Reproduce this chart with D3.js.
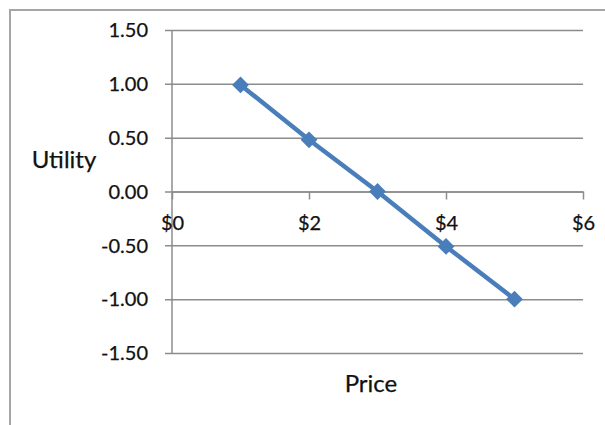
<!DOCTYPE html>
<html>
<head>
<meta charset="utf-8">
<script src="https://cdn.jsdelivr.net/npm/d3@7"></script>
<style>
  html, body { margin: 0; padding: 0; background: #fff; }
  svg { display: block; }
  text { font-family: Lato, "Open Sans", sans-serif; fill: #111; }
</style>
</head>
<body>
<svg id="chart" width="605" height="425"></svg>
<script>
// Utility of each price level
const prices = [1, 2, 3, 4, 5];
const utilities = [0.99, 0.48, 0.0, -0.51, -1.0];
const xTicks = [0, 2, 4, 6];
const yTicks = [-1.5, -1.0, -0.5, 0.0, 0.5, 1.0, 1.5];

const svg = d3.select("#chart");
const font = "Lato, 'Open Sans', sans-serif";

// chart frame
svg.append("rect")
  .attr("x", 10).attr("y", 10)
  .attr("width", 640).attr("height", 460)
  .attr("fill", "none")
  .attr("stroke", "#a6a6a6")
  .attr("stroke-width", 2);

const x = d3.scaleLinear().domain([0, 6]).range([172, 583]);
const y = d3.scaleLinear().domain([-1.5, 1.5]).range([353, 30]);

const gridColor = "#8c8c8c";
const fmt = d => d3.format(".2f")(d).replace("\u2212", "-");

// horizontal gridlines with left tick marks
const yAxis = d3.axisLeft(y)
  .tickValues(yTicks)
  .tickSize(-(583 - 172))
  .tickSizeOuter(0)
  .tickFormat(fmt);
const gy = svg.append("g").attr("transform", "translate(172,0)").call(yAxis);
gy.select(".domain").remove();
gy.selectAll(".tick line")
  .attr("x1", -7)
  .attr("stroke", gridColor)
  .attr("stroke-width", 1.5);
gy.selectAll(".tick text")
  .attr("x", -24)
  .attr("dy", "0.34em")
  .style("font-size", "20px")
  .style("font-family", font)
  .attr("fill", "#111")
  .attr("stroke", "#111")
  .attr("stroke-width", 0.25);

// vertical axis line
svg.append("line")
  .attr("x1", x(0)).attr("x2", x(0))
  .attr("y1", y(1.5)).attr("y2", y(-1.5))
  .attr("stroke", gridColor)
  .attr("stroke-width", 1.5);

// horizontal axis through zero
const xAxis = d3.axisBottom(x)
  .tickValues(xTicks)
  .tickSize(8)
  .tickSizeOuter(0)
  .tickFormat(d => "$" + d);
const gx = svg.append("g").attr("transform", `translate(0,${y(0)})`).call(xAxis);
gx.select(".domain").attr("stroke", gridColor).attr("stroke-width", 1.5);
gx.selectAll(".tick line").attr("stroke", gridColor).attr("stroke-width", 1.5);
gx.selectAll(".tick text")
  .attr("y", 24)
  .style("font-size", "20px")
  .style("font-family", font)
  .attr("fill", "#111")
  .attr("stroke", "#111")
  .attr("stroke-width", 0.25);

// series line
const data = prices.map((p, i) => ({ p, u: utilities[i] }));
svg.append("path")
  .datum(data)
  .attr("fill", "none")
  .attr("stroke", "#4a7ebb")
  .attr("stroke-width", 4.5)
  .attr("d", d3.line().x(d => x(d.p)).y(d => y(d.u)));

// diamond markers
svg.selectAll(".marker")
  .data(data)
  .join("path")
  .attr("class", "marker")
  .attr("transform", d => `translate(${x(d.p)},${y(d.u)})`)
  .attr("d", d3.symbol().type(d3.symbolDiamond2).size(180))
  .attr("fill", "#4a7ebb");

// axis titles
svg.append("text")
  .attr("x", 64).attr("y", 168)
  .attr("text-anchor", "middle")
  .style("font-size", "24px")
  .attr("stroke", "#111")
  .attr("stroke-width", 0.25)
  .text("Utility");

svg.append("text")
  .attr("x", 371).attr("y", 392)
  .attr("text-anchor", "middle")
  .style("font-size", "24px")
  .attr("stroke", "#111")
  .attr("stroke-width", 0.25)
  .text("Price");
</script>
</body>
</html>
